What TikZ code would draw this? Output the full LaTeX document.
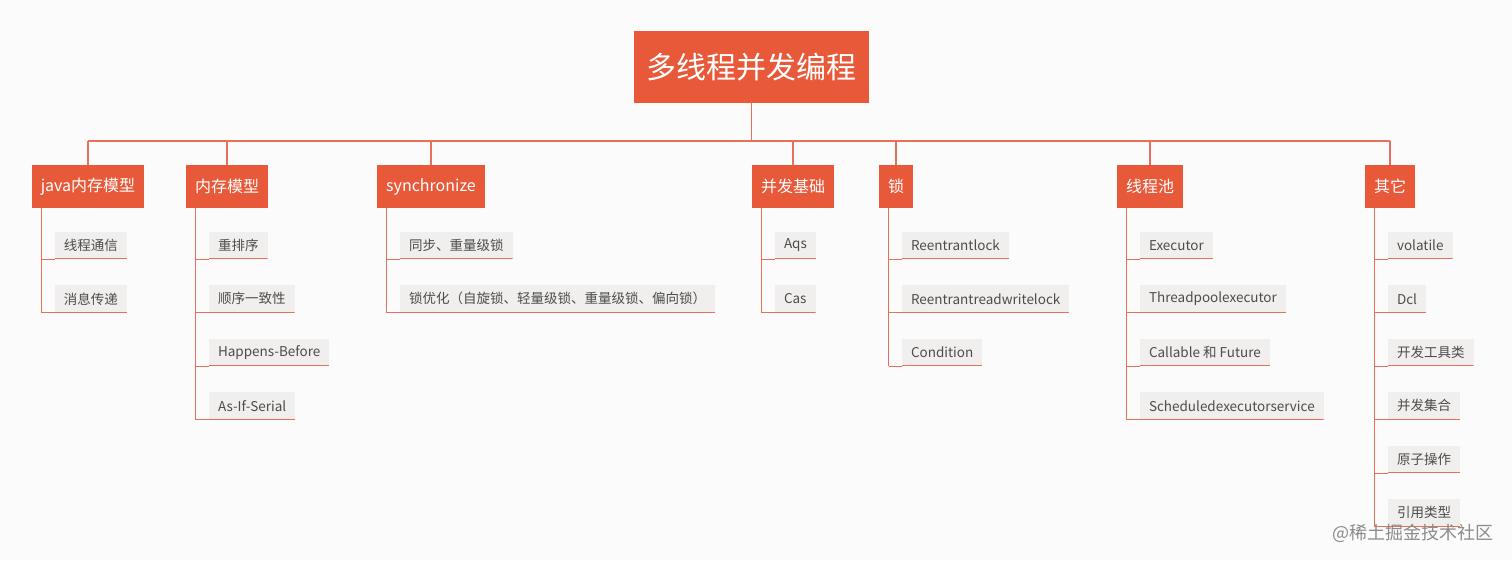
\documentclass[tikz,border=0pt]{standalone}
\usepackage{fontspec}
\setmainfont{Noto Sans CJK SC}
\definecolor{org}{HTML}{E8593A}
\definecolor{lnk}{HTML}{E8705A}
\definecolor{leaf}{HTML}{F0EFEE}
\definecolor{bg}{HTML}{FBFBFB}
\begin{document}
\begin{tikzpicture}[x=1pt,y=-1pt,
 rootbox/.style={fill=org,text=white,font=\fontsize{30}{32}\selectfont,minimum width=235pt,minimum height=72pt,inner sep=0pt},
 topbox/.style={fill=org,text=white,font=\fontsize{16}{18}\selectfont,minimum height=43pt,inner xsep=9pt},
 leafbox/.style={fill=leaf,text=black!70,font=\fontsize{13.5}{15}\selectfont,minimum height=27pt,inner xsep=9pt,anchor=south west,path picture={\draw[lnk,line width=1.2pt] (path picture bounding box.south west)--(path picture bounding box.south east);}},
 wire/.style={draw=lnk,line width=1.3pt},
 lwire/.style={draw=lnk,line width=1pt}]
\fill[bg] (0,0) rectangle (1512,560);
\useasboundingbox (0,0) rectangle (1512,560);
\node[rootbox] (root) at (751.5,67) {多线程并发编程};
\coordinate (busL) at (88,141);
\coordinate (busR) at (1390,141);
\draw[wire] (root.south) -- (751.5,141);
\draw[wire] (busL) -- (busR);
% top-level
\foreach \n/\x/\t in {a/88/java内存模型,b/227/内存模型,c/431/synchronize,d/793/并发基础,e/896/锁,f/1150/线程池,g/1390/其它}{
 \node[topbox] (\n) at (\x,186.5) {\t};
 \draw[wire] (\x,141) -- (\n.north);
}
% leaves: parent, row list
\newcommand\leafs[2]{%
 \foreach \t [count=\i] in {#2}{
  \pgfmathsetmacro\yy{259+(\i-1)*53.5}
  \coordinate (#1v\i) at ([xshift=10pt]#1.south west |- 0,\yy);
  \node[leafbox] (#1l\i) at ([xshift=13pt]#1v\i) {\t};
  \draw[lwire] (#1v\i) -- (#1l\i.south west);
  \xdef\last{\i}
 }
 \draw[lwire] ([xshift=10pt]#1.south west) -- (#1v\last);
}
\leafs{a}{线程通信,消息传递}
\leafs{b}{重排序,顺序一致性,Happens-Before,As-If-Serial}
\leafs{c}{同步、重量级锁,{锁优化（自旋锁、轻量级锁、重量级锁、偏向锁）}}
\leafs{d}{Aqs,Cas}
\leafs{e}{Reentrantlock,Reentrantreadwritelock,Condition}
\leafs{f}{Executor,Threadpoolexecutor,Callable 和 Future,Scheduledexecutorservice}
\leafs{g}{volatile,Dcl,开发工具类,并发集合,原子操作,引用类型}
\node[text=black!45,font=\fontsize{18}{20}\selectfont,anchor=east] (wm) at (1497,533) {@稀土掘金技术社区};
\end{tikzpicture}
\end{document}
